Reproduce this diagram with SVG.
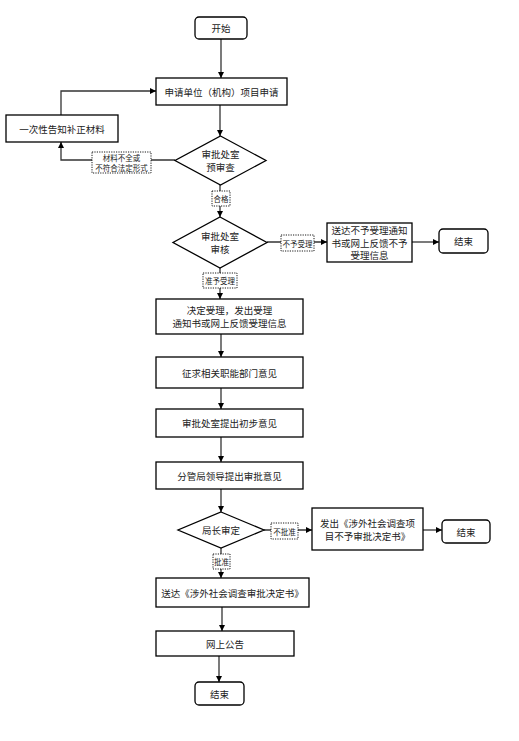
<svg xmlns="http://www.w3.org/2000/svg" width="519" height="741" viewBox="0 0 519 741">
<style>
.n{fill:#fff;stroke:#000;stroke-width:1.3}
.t{font-family:"Noto Sans CJK SC","Noto Sans",sans-serif;font-size:9.5px;fill:#222;text-anchor:middle;dominant-baseline:central}
.lb{fill:#fff;stroke:#000;stroke-width:0.9;stroke-dasharray:1.2 1.2}
.lt{font-family:"Noto Sans CJK SC","Noto Sans",sans-serif;font-size:7.5px;fill:#222;text-anchor:middle;dominant-baseline:central}
.c{fill:none;stroke:#333;stroke-width:1.3}
</style>
<defs>
<marker id="a" viewBox="0 0 8 8" refX="8" refY="4" markerWidth="6" markerHeight="6" markerUnits="userSpaceOnUse" orient="auto"><path d="M0,0 L8,4 L0,8 z" fill="#000"/></marker>
</defs>
<rect width="519" height="741" fill="#fff"/>
<g id="connectors">
<path class="c" d="M221,39 V78" marker-end="url(#a)"/>
<path class="c" d="M61,115 V91 H156" marker-end="url(#a)"/>
<path class="c" d="M220,105 V136" marker-end="url(#a)"/>
<path class="c" d="M175,160 H61 V142" marker-end="url(#a)"/>
<path class="c" d="M220,185 V217" marker-end="url(#a)"/>
<path class="c" d="M267,242 H327" marker-end="url(#a)"/>
<path class="c" d="M412,242 H439" marker-end="url(#a)"/>
<path class="c" d="M220,268 V299" marker-end="url(#a)"/>
<path class="c" d="M221,334 V357" marker-end="url(#a)"/>
<path class="c" d="M221,388 V409" marker-end="url(#a)"/>
<path class="c" d="M221,437 V462" marker-end="url(#a)"/>
<path class="c" d="M221,489 V512" marker-end="url(#a)"/>
<path class="c" d="M264,530 H312" marker-end="url(#a)"/>
<path class="c" d="M423,530 H442" marker-end="url(#a)"/>
<path class="c" d="M221,548 V578" marker-end="url(#a)"/>
<path class="c" d="M222,607 V631" marker-end="url(#a)"/>
<path class="c" d="M219,656 V682" marker-end="url(#a)"/>
<g id="label-buquan"><rect class="lb" x="92" y="152" width="59" height="21"/><text class="lt" x="121.5" y="157.5">材料不全或</text><text class="lt" x="121.5" y="167.5">不符合法定形式</text></g>
<g id="label-hege"><rect class="lb" x="212" y="191" width="18" height="15"/><text class="lt" x="221" y="198.5">合格</text></g>
<g id="label-buyu"><rect class="lb" x="281" y="235" width="33" height="16"/><text class="lt" x="297.5" y="243">不予受理</text></g>
<g id="label-zhunyu"><rect class="lb" x="203" y="273" width="34" height="15"/><text class="lt" x="220" y="280.5">准予受理</text></g>
<g id="label-bupizhun"><rect class="lb" x="271" y="523" width="27" height="16"/><text class="lt" x="284.5" y="531">不批准</text></g>
<g id="label-pizhun"><rect class="lb" x="213" y="554" width="17" height="15"/><text class="lt" x="221.5" y="561.5">批准</text></g>
</g>
<g id="start"><rect class="n" x="195" y="17" width="52" height="22" rx="4"/><text class="t" x="221" y="28">开始</text></g>
<g id="apply"><rect class="n" x="156" y="78" width="131" height="27"/><text class="t" x="221.5" y="91.5">申请单位（机构）项目申请</text></g>
<g id="notify"><rect class="n" x="6" y="115" width="112" height="27"/><text class="t" x="62" y="128.5">一次性告知补正材料</text></g>
<g id="prereview"><polygon class="n" points="220.5,136 266,160.5 220.5,185 175,160.5"/><text class="t" x="220.5" y="154">审批处室</text><text class="t" x="220.5" y="167">预审查</text></g>
<g id="review"><polygon class="n" points="220,217 267,242.5 220,268 173,242.5"/><text class="t" x="220" y="236">审批处室</text><text class="t" x="220" y="249">审核</text></g>
<g id="reject1"><rect class="n" x="327" y="223" width="85" height="39"/><text class="t" x="369.5" y="230">送达不予受理通知</text><text class="t" x="369.5" y="242.5">书或网上反馈不予</text><text class="t" x="369.5" y="255">受理信息</text></g>
<g id="end1"><rect class="n" x="439" y="229" width="49" height="24" rx="4"/><text class="t" x="463.5" y="241">结束</text></g>
<g id="accept"><rect class="n" x="156" y="299" width="147" height="35"/><text class="t" x="229.5" y="310">决定受理，发出受理</text><text class="t" x="229.5" y="323">通知书或网上反馈受理信息</text></g>
<g id="consult"><rect class="n" x="156" y="357" width="147" height="31"/><text class="t" x="229.5" y="372.5">征求相关职能部门意见</text></g>
<g id="initial"><rect class="n" x="156" y="409" width="147" height="28"/><text class="t" x="229.5" y="423">审批处室提出初步意见</text></g>
<g id="leader"><rect class="n" x="156" y="462" width="147" height="27"/><text class="t" x="229.5" y="475.5">分管局领导提出审批意见</text></g>
<g id="director"><polygon class="n" points="221,512 264,530 221,548 178,530"/><text class="t" x="221" y="530">局长审定</text></g>
<g id="reject2"><rect class="n" x="312" y="508" width="111" height="42"/><text class="t" x="367.5" y="522.5">发出《涉外社会调查项</text><text class="t" x="367.5" y="536">目不予审批决定书》</text></g>
<g id="end2"><rect class="n" x="442" y="520" width="48" height="23" rx="4"/><text class="t" x="466" y="531.5">结束</text></g>
<g id="deliver"><rect class="n" x="156" y="578" width="153" height="29"/><text class="t" x="232.5" y="592.5">送达《涉外社会调查审批决定书》</text></g>
<g id="publish"><rect class="n" x="156" y="631" width="138" height="25"/><text class="t" x="225" y="643.5">网上公告</text></g>
<g id="end3"><rect class="n" x="195" y="682" width="49" height="23" rx="4"/><text class="t" x="219.5" y="693.5">结束</text></g>
</svg>
